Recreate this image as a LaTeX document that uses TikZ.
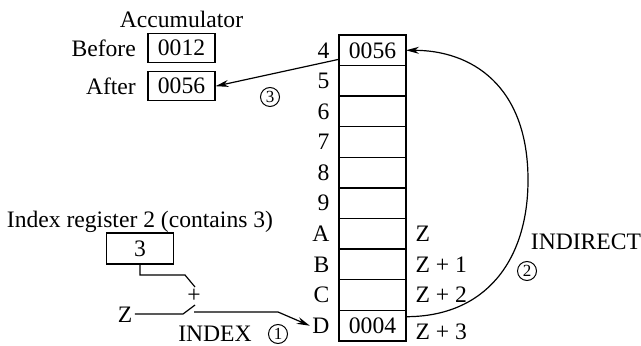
\documentclass[tikz,border=0pt]{standalone}
\usepackage{fontspec}
\setmainfont{Liberation Serif}
\usetikzlibrary{arrows.meta, positioning}
\tikzset{
    cell/.style={
        rectangle, draw, line width=0.7pt, outer sep=0pt, inner sep=0pt,
        minimum width=33.5pt, minimum height=15.3pt
    },
    regbox/.style={
        rectangle, draw, line width=0.6pt, inner sep=0pt,
        minimum width=33.5pt, minimum height=14.5pt
    },
    addr/.style={inner sep=1pt},
    arrow/.style={
        -{Stealth[length=6.5pt, width=3.5pt]}, line width=0.6pt
    },
    numcircle/.style={
        circle, draw, line width=0.5pt, inner sep=0pt,
        minimum size=9.5pt, font=\fontsize{8.5}{9}\selectfont
    }
}

\begin{document}
\begin{tikzpicture}[x=0.5pt, y=-0.5pt, font=\fontsize{11.8}{14}\selectfont, line width=0.6pt]
      \useasboundingbox (0,0) rectangle (641,346);

      % memory
      \node[cell] (m4) at (372.5,50.3) {0056};
      \node[cell, below=0pt of m4] (m5) {};
      \node[cell, below=0pt of m5] (m6) {};
      \node[cell, below=0pt of m6] (m7) {};
      \node[cell, below=0pt of m7] (m8) {};
      \node[cell, below=0pt of m8] (m9) {};
      \node[cell, below=0pt of m9] (mA) {};
      \node[cell, below=0pt of mA] (mB) {};
      \node[cell, below=0pt of mB] (mC) {};
      \node[cell, below=0pt of mC] (mD) {0004};

      \node[addr, left=3.5pt of m4] (a4) {4};
      \node[addr, left=3.5pt of m5] (a5) {5};
      \node[addr, left=3.5pt of m6] (a6) {6};
      \node[addr, left=3.5pt of m7] (a7) {7};
      \node[addr, left=3.5pt of m8] (a8) {8};
      \node[addr, left=3.5pt of m9] (a9) {9};
      \node[addr, left=3.5pt of mA] (aA) {A};
      \node[addr, left=3.5pt of mB] (aB) {B};
      \node[addr, left=3.5pt of mC] (aC) {C};
      \node[addr, left=3.5pt of mD] (aD) {D};

      \node[addr, right=3.5pt of mA] (zA) {Z};
      \node[addr, right=3.5pt of mB] (zB) {Z + 1};
      \node[addr, right=3.5pt of mC] (zC) {Z + 2};
      \node[addr, right=3.5pt of mD, yshift=-3pt] (zD) {Z + 3};

      % accumulator
      \node[regbox] (before) at (181.5,48) {0012};
      \node[regbox, below=4pt of before] (after) {0056};
      \node[above=-1pt of before] (acc) {Accumulator};
      \node[addr, left=4.5pt of before] (lbefore) {Before};
      \node[addr, left=4.5pt of after] (lafter) {After};

      % index register and adder
      \node[regbox, minimum height=15.5pt] (reg) at (140,248.5) {3};
      \node[above=-3.5pt of reg] (lreg) {Index register 2 (contains 3)};
      \node[addr] (zin) at (125,315) {Z};
      \node[inner sep=0pt] (plus) at (194,296) {+};
      \coordinate (upbend) at (185,275);
      \coordinate (upend) at (195,287);
      \coordinate (lowbend) at (183,314);
      \coordinate (lowend) at (195,305);
      \coordinate (sumout) at (194,312);
      \coordinate (sumbend) at (278,312);
      \coordinate (bend) at (528,180);

      \node (lindex) at (215,334) {INDEX};
      \node[numcircle] (c1) at (278,334) {1};
      \node (lindirect) at (586,242) {INDIRECT};
      \node[numcircle] (c2) at (527,271) {2};
      \node[numcircle] (c3) at (270,97) {3};

      \draw (reg.south) |- (upbend) -- (upend);
      \draw (zin.east |- lowbend) -- (lowbend) -- (lowend);
      \draw[arrow] (sumout) -- (sumbend) -- (aD.west);

      \draw[arrow] ([yshift=4.5pt]mD.east) .. controls +(80,0) and +(0,80) .. (bend)
            .. controls +(0,-95) and +(65,0) .. (m4.east);
      \draw[arrow] ([yshift=-4.5pt]m4.west) -- (after.east);
    \end{tikzpicture}
\end{document}
